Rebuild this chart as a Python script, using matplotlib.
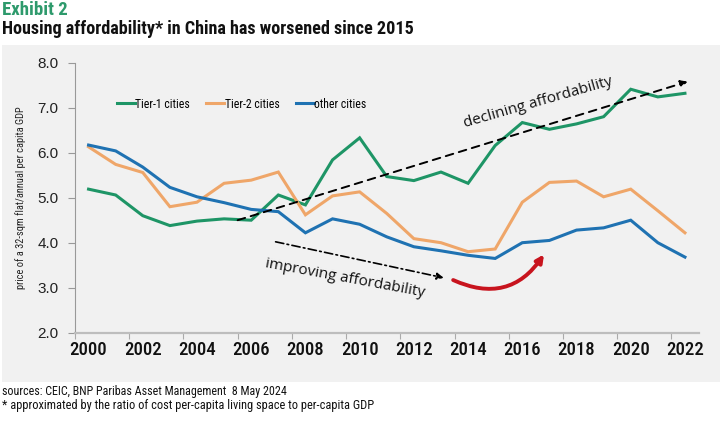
import matplotlib.pyplot as plt
from matplotlib import font_manager
from matplotlib.patches import Rectangle, FancyArrowPatch

# values (price of 32-sqm flat / annual per capita GDP)
years = list(range(2000, 2023))
tier1 = [5.19, 5.06, 4.60, 4.38, 4.48, 4.53, 4.50, 5.06, 4.84, 5.84, 6.33, 5.47,
         5.38, 5.57, 5.32, 6.16, 6.67, 6.52, 6.64, 6.80, 7.41, 7.24, 7.32]
tier2 = [6.13, 5.74, 5.56, 4.80, 4.90, 5.32, 5.39, 5.57, 4.62, 5.04, 5.13, 4.65,
         4.09, 4.00, 3.80, 3.86, 4.90, 5.34, 5.37, 5.02, 5.19, 4.71, 4.22]
other = [6.17, 6.04, 5.68, 5.23, 5.02, 4.89, 4.74, 4.69, 4.22, 4.53, 4.41, 4.13,
         3.91, 3.82, 3.72, 3.65, 4.00, 4.05, 4.28, 4.33, 4.50, 4.00, 3.68]
series_names = ['Tier-1 cities', 'Tier-2 cities', 'other cities']
yticks = [2.0, 3.0, 4.0, 5.0, 6.0, 7.0, 8.0]

colors = ['#1e9566', '#efa669', '#1f72b2']

installed = {f.name for f in font_manager.fontManager.ttflist}


def pick(*names):
    return next((n for n in names if n in installed), 'DejaVu Sans')


narrow = [pick('Liberation Sans Narrow', 'Roboto Condensed', 'Lato'), 'DejaVu Sans']
hand = ['Open Sans', 'DejaVu Sans']

fig = plt.figure(figsize=(7.25, 4.26), dpi=100)
fig.patch.set_facecolor('white')

# grey panel behind the chart
fig.add_artist(Rectangle((2 / 725, 44 / 426), 718 / 725, 337 / 426,
                         transform=fig.transFigure, facecolor='#f1f1f1',
                         edgecolor='none', zorder=0))

ax = fig.add_axes([75 / 725, 93.3 / 426, 623.5 / 725, 270 / 426])
ax.set_facecolor('none')

x = list(range(len(years)))
for vals, name, c in zip([tier1, tier2, other], series_names, colors):
    ax.plot(x, vals, color=c, lw=2.2, label=name, solid_joinstyle='miter')

ax.set_xlim(-0.5, len(years) - 0.5)
ax.set_ylim(2.0, 8.0)

# y axis
ax.set_yticks(yticks)
ax.set_yticklabels([f'{v:.1f}' for v in yticks], family=['Liberation Sans', 'DejaVu Sans'],
                   fontsize=11, color='#222222')
ax.tick_params(axis='y', direction='out', length=5, width=0.8, color='#999999', pad=7)
ax.set_ylabel('price of a 32-sqm flat/annual per capita GDP', fontsize=7.5,
              family=narrow, color='#222222', labelpad=8)

# x axis: category style, ticks between every second category, labels on centres
ax.set_xticks([i - 0.5 for i in range(0, len(years), 2)])
ax.set_xticklabels([])
ax.set_xticks(list(range(0, len(years), 2)), minor=True)
ax.set_xticklabels([str(y) for y in years[::2]], minor=True, family=narrow,
                   fontsize=13.5, fontweight='medium', color='#111111')
ax.tick_params(axis='x', which='major', direction='out', length=4, width=0.8, color='#aaaaaa')
ax.tick_params(axis='x', which='minor', length=0, pad=6)

for s in ['top', 'right']:
    ax.spines[s].set_visible(False)
ax.spines['left'].set_color('#999999')
ax.spines['left'].set_linewidth(0.8)
ax.spines['bottom'].set_color('#bdbdbd')
ax.spines['bottom'].set_linewidth(1.6)

leg = ax.legend(loc='upper left', bbox_to_anchor=(0.05, 0.91), ncol=3, frameon=False,
                handlelength=1.5, handletextpad=0.05, columnspacing=1.4,
                prop={'family': narrow, 'size': 8.5})
for line in leg.get_lines():
    line.set_linewidth(2.2)

# annotations
ax.annotate('', xy=(22.1, 7.58), xytext=(5.5, 4.50),
            arrowprops=dict(arrowstyle='-|>', color='black', lw=1.4, ls=(0, (4, 3)),
                            mutation_scale=10, shrinkA=0, shrinkB=0))
ax.text(16.6, 7.12, 'declining affordability', rotation=16, ha='center', va='center',
        fontsize=11, family=hand, color='#111111')

ax.annotate('', xy=(13.1, 3.22), xytext=(6.9, 4.02),
            arrowprops=dict(arrowstyle='-|>', color='black', lw=1.2,
                            ls=(0, (5, 2, 1, 2)), mutation_scale=10, shrinkA=0, shrinkB=0))
ax.text(9.45, 3.2, 'improving affordability', rotation=-10.5, ha='center', va='center',
        fontsize=11, family=hand, color='#111111')

ax.add_patch(FancyArrowPatch((13.45, 3.17), (16.8, 3.74), connectionstyle='arc3,rad=0.42',
                             arrowstyle='-|>', mutation_scale=11, lw=2.8, color='#c8141e',
                             shrinkA=0, shrinkB=0))

# titles and footnotes
t_ex = fig.text(2 / 725, 1 - 10 / 426, 'Exhibit 2', family=narrow, fontweight='bold',
                fontsize=13, color='#2e9a6c', va='center', ha='left')
t_title = fig.text(2 / 725, 1 - 29 / 426,
                   'Housing affordability* in China has worsened since 2015',
                   family=narrow, fontweight='bold', fontsize=13, color='#111111',
                   va='center', ha='left')
t_src = fig.text(2 / 725, 1 - 392 / 426,
                 'sources: CEIC, BNP Paribas Asset Management  8 May 2024',
                 family=narrow, fontsize=8.5, color='#111111', va='center', ha='left')
t_note = fig.text(2 / 725, 1 - 405 / 426,
                  '* approximated by the ratio of cost per-capita living space to per-capita GDP',
                  family=narrow, fontsize=8.5, color='#111111', va='center', ha='left')

# the original uses a condensed face; scale texts to the widths they have in the reference
fig.canvas.draw()
renderer = fig.canvas.get_renderer()
for t, target in [(t_ex, 65), (t_title, 410), (t_src, 284), (t_note, 372)]:
    w = t.get_window_extent(renderer).width
    t.set_fontsize(min(t.get_fontsize() * target / w, 14))

fig.savefig('out.png', dpi=100)
